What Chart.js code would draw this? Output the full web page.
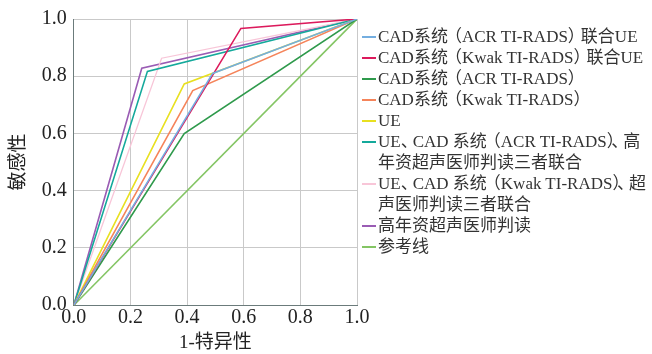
<!DOCTYPE html>
<html>
<head>
<meta charset="utf-8">
<script src="https://cdn.jsdelivr.net/npm/chart.js@4"></script>
<style>
  body { margin: 0; background: #fff; }
  #wrap { position: relative; width: 652px; height: 354px; }
  #rocChart { position: absolute; left: 0; top: 0; }
  #legend {
    position: absolute; left: 362px; top: 26px; width: 292px;
    font-family: "Liberation Serif", "Noto Sans CJK SC", serif;
    font-size: 17px; line-height: 21px; color: #333;
  }
  .item { display: flex; align-items: flex-start; white-space: nowrap; }
  .swatch { flex: none; width: 14px; height: 2px; margin-top: 10px; margin-right: 2px; }
  .po { margin-left: -3px; }
  .pc { margin-right: -4px; }
  .dn { margin-right: -5px; }
</style>
</head>
<body>
<div id="wrap">
  <canvas id="rocChart" width="652" height="354"></canvas>
  <div id="legend"></div>
</div>
<script>
// series names as in the legend (line breaks kept as in the picture)
const seriesNames = [
  'CAD系统（ACR TI-RADS）联合UE',
  'CAD系统（Kwak TI-RADS）联合UE',
  'CAD系统（ACR TI-RADS）',
  'CAD系统（Kwak TI-RADS）',
  'UE',
  'UE、CAD 系统（ACR TI-RADS）、高\n年资超声医师判读三者联合',
  'UE、CAD 系统（Kwak TI-RADS）、超\n声医师判读三者联合',
  '高年资超声医师判读',
  '参考线'
];
const seriesColors = ['#74aee0', '#dc1a5c', '#2f9a4c', '#f5845a', '#e8e020', '#14a99b', '#f8c6d8', '#9a5cb4', '#84c564'];

// 1-特异性 (x) and 敏感性 (y) for each curve
const fprValues = [
  [0, 0.49, 1],
  [0, 0.59, 1],
  [0, 0.39, 1],
  [0, 0.42, 1],
  [0, 0.39, 1],
  [0, 0.26, 1],
  [0, 0.31, 1],
  [0, 0.24, 1],
  [0, 1]
];
const tprValues = [
  [0, 0.81, 1],
  [0, 0.967, 1],
  [0, 0.60, 1],
  [0, 0.75, 1],
  [0, 0.773, 1],
  [0, 0.817, 1],
  [0, 0.863, 1],
  [0, 0.828, 1],
  [0, 1]
];
const axisTicks = [0, 0.2, 0.4, 0.6, 0.8, 1.0];

const fontFamily = '"Liberation Serif", "Noto Sans CJK SC", serif';

const datasets = seriesNames.map((name, i) => ({
  label: name,
  data: fprValues[i].map((x, j) => ({ x: x, y: tprValues[i][j] })),
  borderColor: seriesColors[i],
  backgroundColor: seriesColors[i],
  borderWidth: i === 6 ? 1.3 : 1.6,
  pointRadius: 0,
  fill: false,
  tension: 0
}));
// draw reference line first so it sits underneath
datasets[8].order = 10;

// html legend; tighten the full-width punctuation a little
const legendBox = document.getElementById('legend');
seriesNames.forEach((name, i) => {
  const row = document.createElement('div');
  row.className = 'item';
  const sw = document.createElement('span');
  sw.className = 'swatch';
  sw.style.background = seriesColors[i];
  const txt = document.createElement('span');
  txt.innerHTML = name
    .replace(/（/g, '<span class="po">（</span>')
    .replace(/）/g, '<span class="pc">）</span>')
    .replace(/、/g, '<span class="dn">、</span>')
    .replace('\n', '<br>');
  row.appendChild(sw);
  row.appendChild(txt);
  legendBox.appendChild(row);
});

const ctx = document.getElementById('rocChart').getContext('2d');
new Chart(ctx, {
  type: 'line',
  data: { datasets: datasets },
  options: {
    responsive: false,
    animation: false,
    layout: { padding: { top: 16, right: 295, left: 8, bottom: 0 } },
    plugins: {
      legend: { display: false },
      tooltip: { enabled: false }
    },
    scales: {
      x: {
        type: 'linear',
        min: 0, max: 1,
        afterBuildTicks: axis => { axis.ticks = axisTicks.map(v => ({ value: v })); },
        ticks: {
          callback: v => v.toFixed(1),
          color: '#222',
          font: { family: fontFamily, size: 20 },
          padding: 1,
          maxRotation: 0
        },
        grid: { color: '#c9c9c9', lineWidth: 1, drawTicks: false },
        border: { color: '#6b7b7b', width: 1 },
        title: {
          display: true, text: '1-特异性', color: '#222',
          font: { family: fontFamily, size: 19 }, padding: { top: 0, bottom: 0 }
        }
      },
      y: {
        type: 'linear',
        min: 0, max: 1,
        afterBuildTicks: axis => { axis.ticks = axisTicks.map(v => ({ value: v })); },
        ticks: {
          callback: v => v.toFixed(1),
          color: '#222',
          font: { family: fontFamily, size: 20 },
          padding: 7
        },
        grid: { color: '#c9c9c9', lineWidth: 1, drawTicks: false },
        border: { color: '#6b7b7b', width: 1 },
        title: {
          display: true, text: '敏感性', color: '#222',
          font: { family: fontFamily, size: 19 }, padding: { top: 0, bottom: 4 }
        }
      }
    }
  }
});
</script>
</body>
</html>
